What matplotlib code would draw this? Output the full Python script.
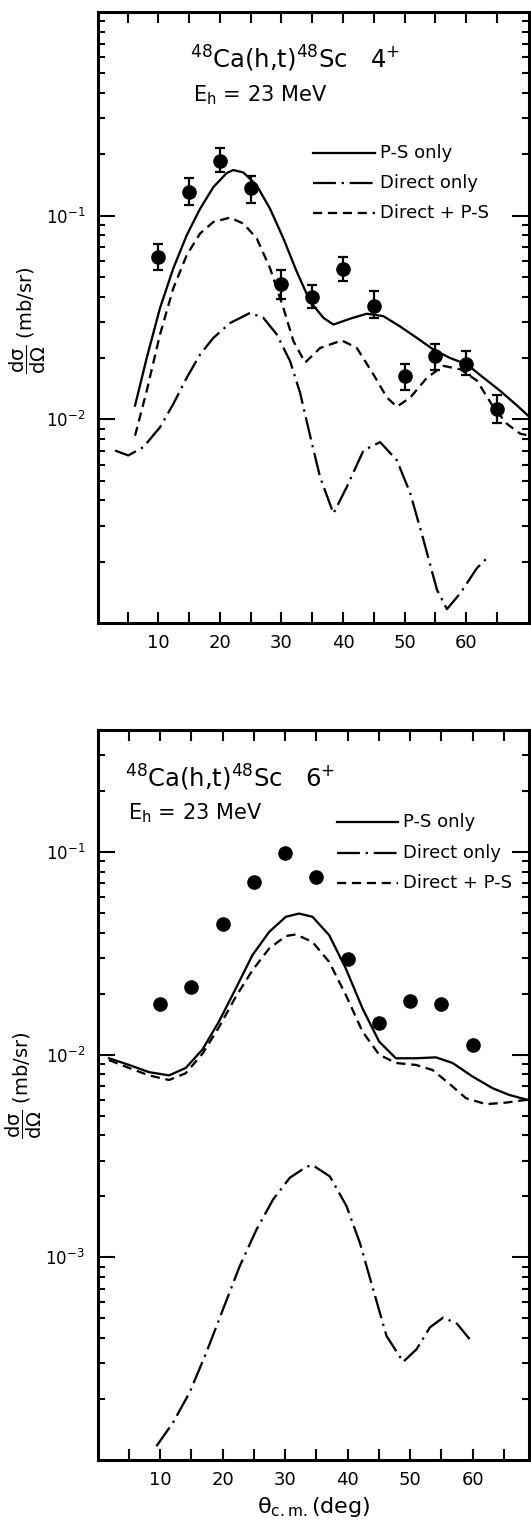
import matplotlib
matplotlib.use("Agg")
import matplotlib.pyplot as plt
from matplotlib.lines import Line2D
from matplotlib.ticker import LogLocator, FixedLocator, NullFormatter, FuncFormatter
import numpy as np

plt.rcParams['font.family'] = ['DejaVu Sans']
plt.rcParams['mathtext.default'] = 'regular'

# ---------------- Top panel (4+) ----------------
top_data_theta = [10, 15, 20, 25, 30, 35, 40, 45, 50, 55, 60, 65]
top_data_val = [0.063, 0.131, 0.185, 0.137, 0.046, 0.040, 0.0546, 0.036, 0.0164, 0.0205, 0.0187, 0.0113]
top_err_low = [0.054, 0.113, 0.164, 0.116, 0.039, 0.0352, 0.0477, 0.0315, 0.014, 0.0175, 0.0166, 0.0096]
top_err_high = [0.073, 0.153, 0.215, 0.157, 0.054, 0.0456, 0.063, 0.0426, 0.0187, 0.0235, 0.0217, 0.0131]

top_ps_theta = [6.21, 8.11, 10.27, 12.43, 14.61, 16.77, 18.93, 21.11, 22.18, 23.81, 25.99, 28.15,
                30.31, 32.49, 34.65, 36.81, 38.44, 41.15, 43.86, 46.56, 49.24, 51.99, 54.69,
                57.39, 60.12, 62.82, 65.52, 68.24, 70.4]
top_ps_val = [0.01167, 0.02, 0.0352, 0.0551, 0.0802, 0.108, 0.138, 0.162, 0.1675, 0.163, 0.1406,
              0.108, 0.0773, 0.053, 0.0379, 0.0315, 0.0292, 0.0312, 0.033, 0.0321, 0.0286, 0.0251,
              0.022, 0.02, 0.0186, 0.016, 0.0138, 0.0117, 0.0102]

top_dps_theta = [6.21, 8.11, 10.27, 12.43, 14.61, 16.77, 18.93, 21.65, 23.81, 25.99, 28.15, 30.31,
                 31.94, 33.84, 36.27, 39.80, 42.24, 44.94, 47.12, 48.74, 50.92, 53.62, 56.31,
                 59.04, 61.74, 64.44, 66.62, 68.78, 70.4]
top_dps_val = [0.0083, 0.0138, 0.0261, 0.044, 0.064, 0.0817, 0.0931, 0.0978, 0.0914, 0.0773,
               0.0551, 0.0352, 0.0242, 0.019, 0.0224, 0.0244, 0.0224, 0.0166, 0.0128, 0.01153,
               0.0128, 0.016, 0.0183, 0.0176, 0.0155, 0.01145, 0.0095, 0.0085, 0.0083]

top_dir_theta = [2.96, 5.12, 7.56, 10.27, 12.43, 14.61, 16.77, 18.93, 21.65, 24.89, 27.06, 29.24,
                 31.40, 33.02, 34.65, 36.27, 38.44, 40.61, 43.31, 46.02, 48.74, 50.92, 53.06,
                 55.24, 56.87, 59.04, 61.74, 63.63]
top_dir_val = [0.00703, 0.00665, 0.0073, 0.00914, 0.0119, 0.016, 0.0208, 0.0251, 0.0297, 0.0333,
               0.0315, 0.0261, 0.0193, 0.0135, 0.0083, 0.0052, 0.00345, 0.00466, 0.00703,
               0.00773, 0.00629, 0.00433, 0.00256, 0.00146, 0.00117, 0.0014, 0.00186, 0.00212]

# ---------------- Bottom panel (6+) ----------------
bot_data_theta = [10, 15, 20, 25, 30, 35, 40, 45, 50, 55, 60]
bot_data_val = [0.0177, 0.0216, 0.0443, 0.071, 0.099, 0.075, 0.0298, 0.0143, 0.0183, 0.0178, 0.0112]

bot_ps_theta = [1.84, 5.04, 8.24, 11.44, 14.11, 16.78, 19.44, 22.11, 24.78, 27.44, 30.11, 32.24,
                34.38, 37.04, 39.71, 42.38, 45.04, 47.71, 50.91, 54.11, 56.78, 59.98, 63.18,
                65.84, 68.78]
bot_ps_val = [0.0096, 0.0089, 0.0082, 0.0079, 0.0086, 0.0106, 0.0146, 0.0212, 0.031, 0.0403,
              0.0479, 0.0497, 0.0479, 0.0389, 0.0266, 0.0169, 0.0116, 0.0096, 0.0096, 0.0097,
              0.0091, 0.0078, 0.00683, 0.00633, 0.00598]

bot_dps_theta = [1.84, 5.04, 8.24, 11.44, 14.11, 16.78, 19.44, 22.11, 24.78, 27.44, 30.11, 31.71,
                 34.38, 37.04, 39.71, 42.38, 45.04, 47.71, 50.91, 53.58, 56.24, 58.91, 62.11,
                 65.31, 68.78]
bot_dps_val = [0.0094, 0.0086, 0.0079, 0.0075, 0.0081, 0.0101, 0.0137, 0.0193, 0.0261, 0.0334,
               0.0385, 0.0392, 0.036, 0.0287, 0.0197, 0.013, 0.01, 0.0091, 0.0089, 0.0084,
               0.0072, 0.0061, 0.0057, 0.0058, 0.006]

bot_dir_theta = [9.42, 12.08, 14.75, 17.42, 20.08, 22.75, 25.42, 28.08, 30.75, 33.42, 34.4, 37.15,
                 39.82, 41.95, 44.08, 46.22, 48.88, 51.02, 53.15, 55.3, 57.5, 59.5]
bot_dir_val = [0.000117, 0.000153, 0.000216, 0.00034, 0.000555, 0.000906, 0.00137, 0.00193,
               0.00247, 0.0028, 0.00285, 0.00251, 0.00179, 0.00118, 0.000695, 0.000409,
               0.000305, 0.000352, 0.000451, 0.000505, 0.00047, 0.000395]

legend_labels = ["P-S only", "Direct only", "Direct + P-S"]
x_tick_labels = [10, 20, 30, 40, 50, 60]

W, H = 531, 1522
fig = plt.figure(figsize=(W / 100, H / 100), dpi=100)

LW = 1.65
DIR_DASH = (10, 2.5, 1, 2.5)
DPS_DASH = (4, 2.5)


def style_axes(ax, ymin, ymax, xmin, xmax, decades):
    ax.set_yscale('log')
    ax.set_xlim(xmin, xmax)
    ax.set_ylim(ymin, ymax)
    for s in ax.spines.values():
        s.set_linewidth(2.2)
    ax.xaxis.set_major_locator(FixedLocator(x_tick_labels))
    ax.xaxis.set_minor_locator(FixedLocator([5, 15, 25, 35, 45, 55, 65]))
    ax.xaxis.set_major_formatter(FuncFormatter(lambda v, p: "%d" % v))
    ax.yaxis.set_major_locator(FixedLocator(decades))
    ax.yaxis.set_minor_locator(LogLocator(base=10, subs=np.arange(2, 10)))
    ax.yaxis.set_minor_formatter(NullFormatter())
    ax.yaxis.set_major_formatter(FuncFormatter(lambda v, p: r"$10^{%d}$" % int(round(np.log10(v)))))
    ax.tick_params(axis='both', which='both', direction='in', top=True, right=True, width=1.5)
    ax.tick_params(axis='x', which='major', length=8, pad=8, labelsize=13)
    ax.tick_params(axis='x', which='minor', length=8)
    ax.tick_params(axis='y', which='major', length=12, pad=9, labelsize=12)
    ax.tick_params(axis='y', which='minor', length=5)


def legend(ax, x0, x1, xt, ys):
    styles = [dict(ls='-'), dict(dashes=DIR_DASH), dict(dashes=DPS_DASH)]
    for st, y, lab in zip(styles, ys, legend_labels):
        ax.add_line(Line2D([x0, x1], [y, y], transform=ax.transAxes, color='black', lw=LW, **st))
        ax.text(xt, y, lab, transform=ax.transAxes, fontsize=13, va='center', ha='left')


# Top axes
ax1 = fig.add_axes([98 / W, 1 - 623 / H, 431 / W, 611 / H])
style_axes(ax1, 1e-3, 1.0, 0.2, 70.2, [1e-2, 1e-1])
ax1.plot(top_ps_theta, top_ps_val, color='black', lw=LW, ls='-')
ax1.plot(top_dps_theta, top_dps_val, color='black', lw=LW, dashes=DPS_DASH)
ax1.plot(top_dir_theta, top_dir_val, color='black', lw=LW, dashes=DIR_DASH)
yv = np.array(top_data_val)
yerr = [yv - np.array(top_err_low), np.array(top_err_high) - yv]
ax1.errorbar(top_data_theta, top_data_val, yerr=yerr, fmt='o', color='black', ms=9.5,
             elinewidth=1.6, capsize=3.5, capthick=1.6)
ax1.text(0.213, 0.908, r"$^{48}$Ca(h,t)$^{48}$Sc   4$^{+}$", transform=ax1.transAxes,
         fontsize=17.5, va='baseline', ha='left')
ax1.text(0.22, 0.854, r"E$_h$ = 23 MeV", transform=ax1.transAxes,
         fontsize=15, va='baseline', ha='left')
legend(ax1, 0.499, 0.643, 0.654, [0.769, 0.720, 0.671])

# Bottom axes
ax2 = fig.add_axes([97.5 / W, 1 - 1460 / H, 431.5 / W, 730 / H])
style_axes(ax2, 1e-4, 0.4, 0.0, 69.0, [1e-3, 1e-2, 1e-1])
ax2.plot(bot_ps_theta, bot_ps_val, color='black', lw=LW, ls='-')
ax2.plot(bot_dps_theta, bot_dps_val, color='black', lw=LW, dashes=DPS_DASH)
ax2.plot(bot_dir_theta, bot_dir_val, color='black', lw=LW, dashes=DIR_DASH)
ax2.plot(bot_data_theta, bot_data_val, 'o', color='black', ms=9.5)
ax2.text(0.064, 0.922, r"$^{48}$Ca(h,t)$^{48}$Sc   6$^{+}$", transform=ax2.transAxes,
         fontsize=17.5, va='baseline', ha='left')
ax2.text(0.071, 0.877, r"E$_h$ = 23 MeV", transform=ax2.transAxes,
         fontsize=15, va='baseline', ha='left')
legend(ax2, 0.555, 0.696, 0.707, [0.874, 0.832, 0.790])
ax2.set_xlabel(r"$\theta_{c.m.}$(deg)", fontsize=16, labelpad=4)

# y labels
ylab = r"$\dfrac{d\sigma}{d\Omega}$ (mb/sr)"
fig.text(28 / W, 1 - 320 / H, ylab, rotation=90, fontsize=14, ha='center', va='center')
fig.text(24 / W, 1 - 1085 / H, ylab, rotation=90, fontsize=14, ha='center', va='center')

fig.savefig("out.png", dpi=100)
